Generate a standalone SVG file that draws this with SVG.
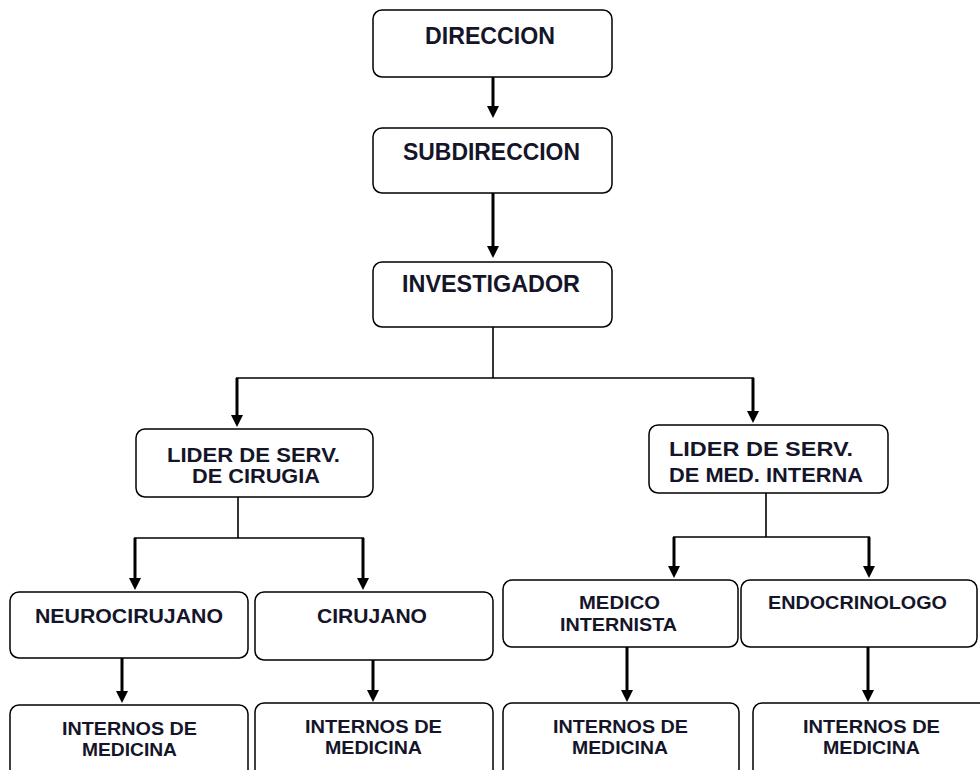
<svg xmlns="http://www.w3.org/2000/svg" width="980" height="770" viewBox="0 0 980 770">
<style>
.box{fill:#fff;stroke:#000;stroke-width:1.5}
.t{font-family:"Liberation Sans",Arial,sans-serif;font-weight:bold;fill:#15152a}
.big{font-size:23px}
.mid{font-size:21px}
.sm{font-size:19px}
.thin{stroke:#000;stroke-width:1.6;fill:none}
.arr{stroke:#000;stroke-width:3;fill:none;marker-end:url(#ah)}
</style>
<defs>
<marker id="ah" viewBox="0 0 12 12" refX="0" refY="6" markerWidth="12" markerHeight="12" markerUnits="userSpaceOnUse" orient="auto">
<path d="M0,0 L12,6 L0,12 z" fill="#000"/>
</marker>
</defs>
<rect width="980" height="770" fill="#fff"/>
<g id="connectors">
<line class="arr" x1="493" y1="77" x2="493" y2="106"/>
<line class="arr" x1="493" y1="193" x2="493" y2="246"/>
<line class="thin" x1="493" y1="327" x2="493" y2="378"/>
<line class="thin" x1="236" y1="378" x2="754" y2="378"/>
<line class="arr" x1="237" y1="378" x2="237" y2="415"/>
<line class="arr" x1="753" y1="378" x2="753" y2="411"/>
<line class="thin" x1="238" y1="497" x2="238" y2="538"/>
<line class="thin" x1="134" y1="538" x2="364" y2="538"/>
<line class="arr" x1="135" y1="538" x2="135" y2="578"/>
<line class="arr" x1="363" y1="538" x2="363" y2="578"/>
<line class="thin" x1="766" y1="493" x2="766" y2="537"/>
<line class="thin" x1="673" y1="537" x2="870" y2="537"/>
<line class="arr" x1="674" y1="537" x2="674" y2="566"/>
<line class="arr" x1="869" y1="537" x2="869" y2="566"/>
<line class="arr" x1="122" y1="658" x2="122" y2="691"/>
<line class="arr" x1="373" y1="660" x2="373" y2="690"/>
<line class="arr" x1="627" y1="647" x2="627" y2="690"/>
<line class="arr" x1="868" y1="647" x2="868" y2="690"/>
</g>
<g id="direccion">
<rect class="box" x="373" y="10" width="239" height="67" rx="9"/>
<text class="t big" x="425" y="44" textLength="130" lengthAdjust="spacingAndGlyphs">DIRECCION</text>
</g>
<g id="subdireccion">
<rect class="box" x="373" y="128" width="239" height="65" rx="9"/>
<text class="t big" x="403" y="160" textLength="177" lengthAdjust="spacingAndGlyphs">SUBDIRECCION</text>
</g>
<g id="investigador">
<rect class="box" x="373" y="262" width="239" height="65" rx="9"/>
<text class="t big" x="402" y="292" textLength="178" lengthAdjust="spacingAndGlyphs">INVESTIGADOR</text>
</g>
<g id="lider-cirugia">
<rect class="box" x="136" y="429" width="237" height="68" rx="9"/>
<text class="t mid" x="167" y="462" textLength="173" lengthAdjust="spacingAndGlyphs">LIDER DE SERV.</text>
<text class="t mid" x="192" y="483" textLength="128" lengthAdjust="spacingAndGlyphs">DE CIRUGIA</text>
</g>
<g id="lider-med-interna">
<rect class="box" x="649" y="425" width="239" height="68" rx="9"/>
<text class="t mid" x="669" y="456" textLength="184" lengthAdjust="spacingAndGlyphs">LIDER DE SERV.</text>
<text class="t mid" x="669" y="482" textLength="194" lengthAdjust="spacingAndGlyphs">DE MED. INTERNA</text>
</g>
<g id="neurocirujano">
<rect class="box" x="10" y="592" width="238" height="66" rx="9"/>
<text class="t mid" x="35" y="623" textLength="188" lengthAdjust="spacingAndGlyphs">NEUROCIRUJANO</text>
</g>
<g id="cirujano">
<rect class="box" x="255" y="592" width="238" height="68" rx="9"/>
<text class="t mid" x="317" y="623" textLength="110" lengthAdjust="spacingAndGlyphs">CIRUJANO</text>
</g>
<g id="medico-internista">
<rect class="box" x="503" y="580" width="235" height="67" rx="9"/>
<text class="t sm" x="579" y="609" textLength="81" lengthAdjust="spacingAndGlyphs">MEDICO</text>
<text class="t sm" x="560" y="631" textLength="117" lengthAdjust="spacingAndGlyphs">INTERNISTA</text>
</g>
<g id="endocrinologo">
<rect class="box" x="741" y="580" width="236" height="67" rx="9"/>
<text class="t sm" x="768" y="609" textLength="179" lengthAdjust="spacingAndGlyphs">ENDOCRINOLOGO</text>
</g>
<g id="internos-1">
<rect class="box" x="10" y="705" width="238" height="90" rx="9"/>
<text class="t sm" x="62" y="735" textLength="135" lengthAdjust="spacingAndGlyphs">INTERNOS DE</text>
<text class="t sm" x="82" y="756" textLength="95" lengthAdjust="spacingAndGlyphs">MEDICINA</text>
</g>
<g id="internos-2">
<rect class="box" x="255" y="703" width="238" height="90" rx="9"/>
<text class="t sm" x="305" y="733" textLength="137" lengthAdjust="spacingAndGlyphs">INTERNOS DE</text>
<text class="t sm" x="325" y="754" textLength="97" lengthAdjust="spacingAndGlyphs">MEDICINA</text>
</g>
<g id="internos-3">
<rect class="box" x="503" y="703" width="236" height="90" rx="9"/>
<text class="t sm" x="553" y="733" textLength="135" lengthAdjust="spacingAndGlyphs">INTERNOS DE</text>
<text class="t sm" x="572" y="754" textLength="96" lengthAdjust="spacingAndGlyphs">MEDICINA</text>
</g>
<g id="internos-4">
<rect class="box" x="753" y="703" width="260" height="90" rx="9"/>
<text class="t sm" x="803" y="733" textLength="137" lengthAdjust="spacingAndGlyphs">INTERNOS DE</text>
<text class="t sm" x="823" y="754" textLength="97" lengthAdjust="spacingAndGlyphs">MEDICINA</text>
</g>
</svg>
